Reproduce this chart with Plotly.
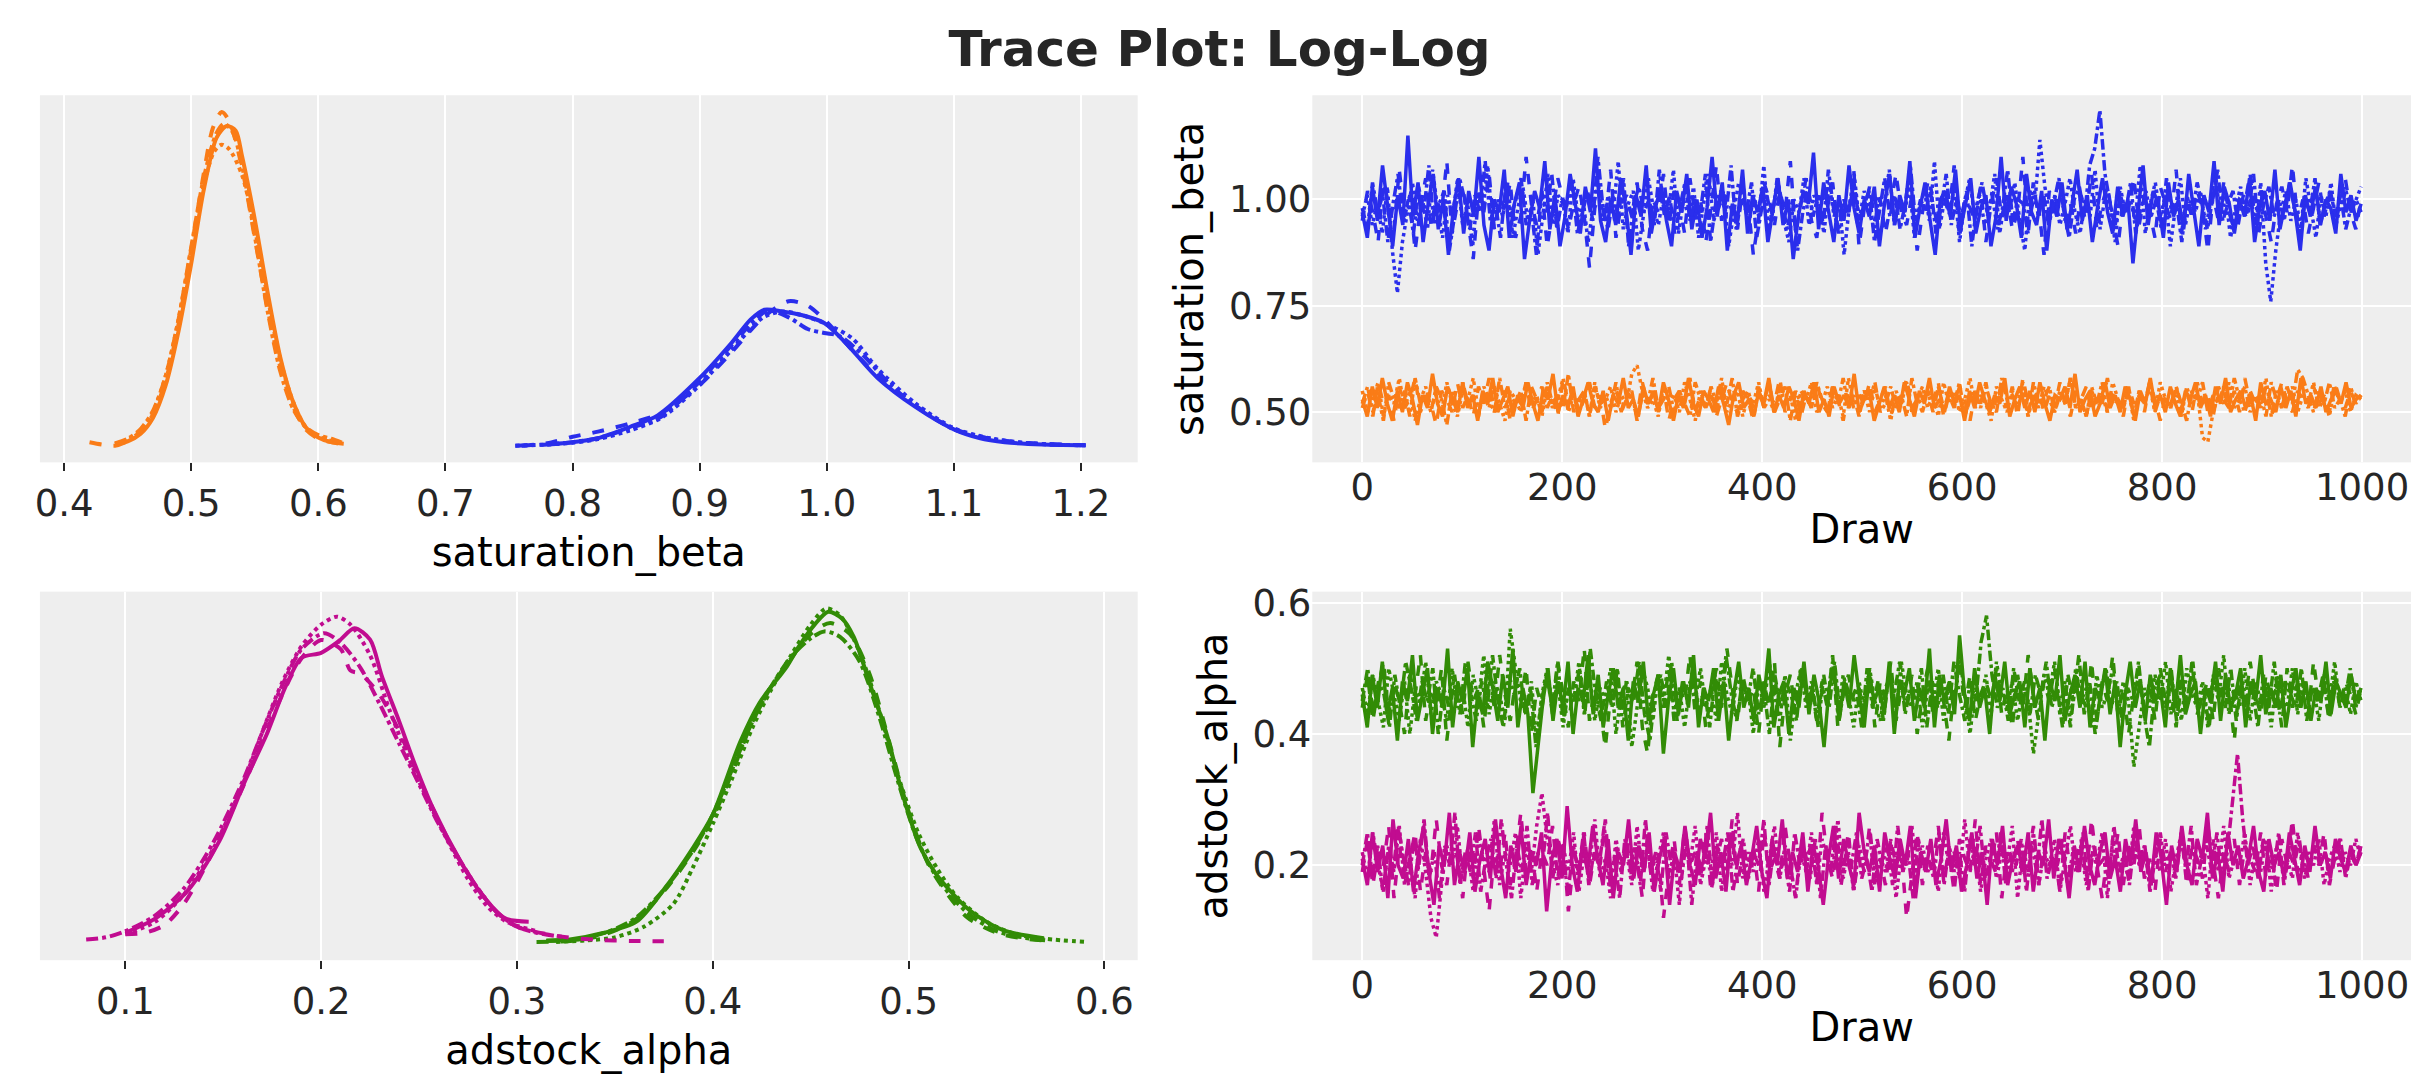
import numpy as np
import plotly.graph_objects as go
from plotly.subplots import make_subplots

# arviz-darkgrid colours, one per coordinate
BLUE = "#2a2eec"
ORANGE = "#fa7c17"
GREEN = "#328c06"
MAGENTA = "#c10c90"
# one line style per chain (4 chains)
CHAIN_DASH = ["solid", "dash", "dot", "dashdot"]

# ---- posterior densities, one list per chain: saturation_beta ----
orange_kde_x = [
    [0.44, 0.45, 0.46, 0.47, 0.48, 0.49, 0.50, 0.51, 0.52, 0.528, 0.535, 0.54, 0.55, 0.56, 0.57, 0.58, 0.59, 0.60, 0.61, 0.62],
    [0.42, 0.43, 0.44, 0.45, 0.46, 0.47, 0.48, 0.49, 0.50, 0.51, 0.517, 0.524, 0.53, 0.54, 0.55, 0.56, 0.57, 0.58, 0.59, 0.60, 0.61, 0.62],
    [0.44, 0.45, 0.46, 0.47, 0.48, 0.49, 0.50, 0.51, 0.518, 0.524, 0.53, 0.54, 0.55, 0.56, 0.57, 0.58, 0.59, 0.60, 0.61, 0.62],
    [0.44, 0.45, 0.46, 0.47, 0.48, 0.49, 0.50, 0.51, 0.52, 0.526, 0.533, 0.54, 0.55, 0.56, 0.57, 0.58, 0.59, 0.60, 0.61, 0.62],
]
orange_kde_y = [
    [0.05, 0.18, 0.5, 1.2, 2.6, 4.9, 7.8, 11.0, 13.2, 13.7, 13.5, 12.4, 9.7, 6.6, 3.8, 1.9, 0.8, 0.35, 0.15, 0.08],
    [0.15, 0.05, 0.0, 0.2, 0.6, 1.35, 2.8, 5.2, 8.4, 11.7, 13.6, 14.3, 13.9, 11.9, 8.9, 5.9, 3.4, 1.7, 0.7, 0.3, 0.15, 0.05],
    [0.08, 0.25, 0.65, 1.45, 3.0, 5.4, 8.4, 11.2, 12.6, 12.9, 12.7, 11.6, 9.3, 6.4, 3.7, 1.9, 0.8, 0.4, 0.2, 0.1],
    [0.1, 0.3, 0.7, 1.5, 3.0, 5.4, 8.5, 11.5, 13.4, 13.8, 13.4, 12.0, 9.0, 5.8, 3.2, 1.6, 0.8, 0.45, 0.3, 0.1],
]
blue_kde_x = [
    [0.78, 0.80, 0.82, 0.845, 0.867, 0.90, 0.925, 0.94, 0.951, 0.965, 0.98, 0.998, 1.015, 1.04, 1.07, 1.10, 1.12, 1.14, 1.17, 1.20],
    [0.76, 0.78, 0.80, 0.82, 0.845, 0.87, 0.90, 0.925, 0.95, 0.97, 0.985, 1.00, 1.02, 1.04, 1.07, 1.10, 1.13, 1.16, 1.19, 1.205],
    [0.755, 0.78, 0.80, 0.82, 0.845, 0.87, 0.90, 0.925, 0.95, 0.965, 0.98, 1.00, 1.02, 1.04, 1.07, 1.10, 1.13, 1.16, 1.19, 1.205],
    [0.755, 0.78, 0.80, 0.82, 0.845, 0.87, 0.90, 0.925, 0.953, 0.97, 0.985, 0.998, 1.01, 1.03, 1.05, 1.07, 1.10, 1.13, 1.16, 1.19, 1.205],
]
blue_kde_y = [
    [0.05, 0.15, 0.32, 0.8, 1.3, 2.9, 4.4, 5.4, 5.83, 5.75, 5.6, 5.26, 4.4, 2.9, 1.65, 0.7, 0.33, 0.15, 0.05, 0.02],
    [0.0, 0.1, 0.38, 0.6, 0.95, 1.4, 2.6, 4.0, 5.5, 6.19, 6.0, 5.3, 4.1, 3.0, 1.7, 0.72, 0.28, 0.1, 0.03, 0.02],
    [0.0, 0.05, 0.12, 0.28, 0.65, 1.2, 2.6, 4.1, 5.5, 5.75, 5.6, 5.2, 4.6, 3.3, 1.8, 0.75, 0.3, 0.1, 0.03, 0.02],
    [0.0, 0.05, 0.15, 0.32, 0.75, 1.25, 2.75, 4.3, 5.77, 5.5, 5.0, 4.83, 4.7, 3.8, 2.6, 1.7, 0.7, 0.28, 0.1, 0.03, 0.02],
]

# ---- posterior densities: adstock_alpha ----
green_kde_x = [
    [0.315, 0.327, 0.344, 0.361, 0.376, 0.39, 0.40, 0.414, 0.424, 0.438, 0.444, 0.452, 0.459, 0.466, 0.472, 0.48, 0.489, 0.497, 0.506, 0.514, 0.531, 0.548, 0.569],
    [0.31, 0.33, 0.345, 0.36, 0.375, 0.39, 0.40, 0.41, 0.42, 0.43, 0.44, 0.45, 0.46, 0.47, 0.48, 0.49, 0.50, 0.51, 0.52, 0.53, 0.545, 0.56, 0.57],
    [0.32, 0.335, 0.35, 0.365, 0.38, 0.39, 0.40, 0.41, 0.42, 0.43, 0.44, 0.45, 0.458, 0.465, 0.475, 0.485, 0.495, 0.505, 0.515, 0.525, 0.54, 0.555, 0.57, 0.59],
    [0.315, 0.33, 0.345, 0.36, 0.375, 0.39, 0.40, 0.41, 0.42, 0.43, 0.44, 0.45, 0.457, 0.465, 0.475, 0.485, 0.495, 0.505, 0.515, 0.53, 0.545, 0.56, 0.57],
]
green_kde_y = [
    [0.1, 0.13, 0.34, 0.71, 1.84, 3.13, 4.2, 6.57, 7.86, 9.05, 9.69, 10.4, 10.82, 10.6, 10.0, 8.51, 6.79, 4.85, 3.13, 2.27, 1.09, 0.44, 0.17],
    [0.05, 0.1, 0.3, 0.75, 1.7, 3.0, 4.1, 5.6, 7.2, 8.4, 9.3, 10.1, 10.45, 10.1, 8.8, 6.6, 4.3, 2.6, 1.6, 0.85, 0.35, 0.15, 0.1],
    [0.05, 0.1, 0.2, 0.55, 1.3, 2.5, 3.9, 5.4, 7.0, 8.3, 9.4, 10.4, 10.93, 10.7, 9.5, 7.6, 5.4, 3.6, 2.4, 1.5, 0.7, 0.3, 0.15, 0.05],
    [0.08, 0.12, 0.35, 0.8, 1.75, 3.05, 4.2, 5.7, 7.2, 8.4, 9.35, 9.95, 10.18, 10.0, 9.2, 7.4, 5.2, 3.3, 2.1, 1.0, 0.4, 0.18, 0.1],
]
magenta_kde_x = [
    [0.10, 0.115, 0.132, 0.148, 0.161, 0.172, 0.182, 0.19, 0.20, 0.209, 0.217, 0.225, 0.231, 0.24, 0.248, 0.257, 0.271, 0.283, 0.294, 0.306],
    [0.10, 0.11, 0.12, 0.13, 0.14, 0.15, 0.16, 0.17, 0.18, 0.19, 0.20, 0.21, 0.215, 0.22, 0.23, 0.24, 0.25, 0.26, 0.27, 0.28, 0.29, 0.30, 0.32, 0.34, 0.36, 0.375],
    [0.10, 0.115, 0.13, 0.145, 0.16, 0.17, 0.18, 0.19, 0.20, 0.208, 0.215, 0.225, 0.235, 0.245, 0.255, 0.265, 0.275, 0.285, 0.295, 0.31],
    [0.08, 0.09, 0.10, 0.115, 0.13, 0.145, 0.16, 0.17, 0.18, 0.19, 0.2015, 0.21, 0.22, 0.23, 0.24, 0.25, 0.26, 0.27, 0.28, 0.29, 0.30, 0.31, 0.325],
]
magenta_kde_y = [
    [0.35, 0.8, 1.73, 3.34, 5.28, 6.79, 8.4, 9.32, 9.48, 9.86, 10.28, 9.91, 8.72, 7.22, 5.82, 4.42, 2.70, 1.52, 0.82, 0.71],
    [0.3, 0.35, 0.6, 1.3, 2.4, 3.7, 5.1, 6.6, 8.1, 9.3, 9.9, 9.6, 8.9, 8.8, 8.1, 6.9, 5.4, 4.0, 2.8, 1.8, 1.0, 0.55, 0.25, 0.12, 0.08, 0.07],
    [0.3, 0.7, 1.6, 3.1, 5.2, 6.9, 8.5, 9.7, 10.4, 10.66, 10.4, 9.4, 7.6, 6.0, 4.6, 3.3, 2.1, 1.2, 0.7, 0.4],
    [0.13, 0.2, 0.4, 0.9, 1.8, 3.3, 5.3, 6.9, 8.4, 9.6, 10.12, 9.8, 9.0, 7.8, 6.5, 5.2, 3.9, 2.8, 1.8, 1.0, 0.55, 0.35, 0.2],
]

# ---- sampled traces (about every 5th draw, values in hundredths), one list per chain ----
blue_trace = [
    [97, 91, 103, 95, 108, 99, 89, 101, 94, 115, 96, 104, 90, 99, 106, 93, 100, 87, 98, 105, 92, 102, 96, 110, 94, 88, 100, 97, 107, 91, 99, 104, 86, 95, 102, 98, 109, 93, 101, 89, 96, 106, 99, 92, 103, 97, 112, 95, 90, 100, 94, 105, 98, 87, 101, 96, 108, 92, 99, 103, 95, 89, 102, 97, 106, 93, 100, 91, 98, 110, 96, 104, 88, 99, 95, 107, 92, 101, 97, 103, 90, 98, 105, 94, 100, 86, 96, 102, 99, 111, 93, 104, 97, 90, 101, 95, 108, 98, 92, 100, 96, 103, 89, 99, 106, 94, 101, 97, 109, 91, 98, 104, 95, 87, 100, 102, 96, 107, 93, 99, 105, 92, 98, 101, 89, 96, 110, 95, 103, 99, 91, 106, 97, 94, 102, 88, 100, 96, 104, 93, 99, 107, 95, 101, 90, 98, 105, 97, 92, 103, 96, 100, 85, 97, 108, 94, 102, 99, 91, 104, 96, 100, 93, 106, 98, 89, 101, 97, 109, 94, 103, 99, 92, 100, 96, 105, 90, 98, 102, 95, 107, 93, 99, 104, 97, 88, 101, 96, 103, 94, 100, 98, 92, 106, 97, 101, 95, 99],
    [95, 102, 97, 90, 104, 99, 93, 107, 96, 101, 88, 98, 105, 94, 100, 97, 109, 92, 99, 103, 95, 86, 101, 97, 106, 93, 100, 98, 104, 91, 96, 110, 99, 94, 102, 89, 97, 105, 100, 93, 99, 103, 96, 84, 98, 102, 95, 107, 91, 99, 101, 96, 104, 93, 88, 100, 97, 106, 94, 102, 99, 92, 105, 96, 100, 90, 98, 108, 95, 101, 97, 93, 103, 99, 87, 96, 104, 100, 94, 102, 97, 109, 92, 99, 105, 95, 91, 101, 98, 104, 93, 100, 96, 107, 89, 98, 103, 95, 100, 92, 99, 106, 97, 94, 101, 88, 97, 104, 99, 93, 102, 96, 108, 91, 100, 98, 95, 103, 90, 99, 105, 96, 101, 93, 97, 110, 94, 100, 98, 87, 102, 96, 104, 95, 99, 92, 101, 97, 106, 93, 99, 103, 96, 89, 100, 98, 105, 94, 101, 97, 91, 103, 99, 95, 107, 92, 100, 96, 102, 98, 88, 101, 95, 104, 97, 93, 100, 99, 106, 94, 102, 96, 90, 99, 103, 97, 108, 95, 100, 92, 98, 104, 96, 101, 94, 99, 105, 97, 93, 100],
    [96, 101, 94, 99, 92, 103, 88, 78, 90, 97, 104, 95, 100, 93, 107, 98, 91, 101, 96, 105, 94, 99, 89, 102, 97, 108, 93, 100, 96, 104, 91, 98, 103, 95, 100, 87, 97, 106, 94, 101, 99, 92, 105, 96, 100, 90, 98, 104, 95, 101, 97, 109, 93, 99, 102, 88, 96, 105, 98, 94, 101, 97, 107, 92, 100, 96, 103, 91, 99, 106, 95, 98, 102, 89, 97, 104, 100, 94, 101, 96, 108, 93, 99, 103, 95, 90, 100, 97, 105, 94, 101, 98, 92, 104, 96, 100, 87, 98, 106, 95, 102, 97, 93, 101, 99, 107, 94, 100, 96, 104, 91, 98, 102, 95, 109, 93, 100, 97, 103, 90, 99, 105, 96, 101, 94, 98, 106, 92, 100, 97, 104, 95, 88, 102, 99, 114, 103, 96, 101, 94, 99, 105, 97, 92, 100, 96, 107, 93, 101, 98, 90, 103, 97, 100, 95, 108, 92, 99, 104, 96, 101, 89, 98, 105, 94, 100, 97, 102, 93, 99, 106, 95, 101, 91, 98, 103, 96, 100, 94, 104, 85, 76, 88, 97, 102, 95, 100, 93, 105, 98, 91, 101, 96, 104, 94, 99, 102, 97, 100, 103],
    [98, 93, 104, 97, 101, 90, 99, 106, 95, 100, 92, 103, 97, 108, 94, 99, 102, 88, 96, 105, 100, 93, 101, 97, 109, 95, 99, 91, 103, 96, 100, 105, 94, 98, 87, 101, 97, 106, 93, 100, 99, 104, 92, 97, 102, 95, 110, 98, 93, 101, 96, 105, 89, 99, 103, 97, 100, 94, 107, 96, 101, 92, 98, 104, 95, 100, 97, 106, 90, 99, 102, 96, 108, 93, 100, 97, 104, 91, 98, 101, 95, 105, 99, 93, 100, 88, 97, 103, 96, 101, 94, 107, 98, 92, 100, 97, 104, 95, 99, 102, 90, 98, 105, 96, 101, 93, 99, 108, 95, 100, 97, 103, 92, 98, 106, 94, 100, 96, 102, 89, 99, 104, 97, 101, 93, 98, 107, 95, 100, 99, 92, 104, 96, 101, 94, 99, 105, 97, 91, 100, 103, 96, 108, 112, 121, 106, 99, 94, 101, 97, 104, 92, 98, 102, 96, 100, 93, 105, 97, 99, 90, 101, 96, 104, 98, 93, 100, 107, 95, 99, 102, 94, 101, 97, 106, 92, 99, 103, 96, 100, 95, 104, 98, 91, 100, 97, 105, 94, 99, 102, 96, 101, 93, 98, 100, 97],
]
orange_trace = [
    [53, 49, 56, 51, 58, 52, 48, 55, 50, 57, 53, 47, 54, 51, 59, 52, 49, 56, 53, 50, 57, 51, 54, 48, 55, 52, 58, 50, 53, 56, 49, 54, 51, 57, 52, 48, 55, 53, 59, 50, 54, 51, 56, 49, 53, 57, 52, 50, 55, 48, 54, 52, 58, 51, 53, 49, 56, 52, 55, 50, 57, 53, 48, 54, 51, 58, 52, 49, 55, 53, 50, 56, 52, 47, 54, 57, 51, 53, 49, 55, 52, 58, 50, 54, 51, 56, 53, 48, 55, 52, 57, 50, 53, 49, 56, 52, 54, 51, 59, 50, 53, 55, 48, 52, 56, 51, 54, 50, 57, 53, 49, 55, 52, 58, 51, 53, 50, 56, 52, 54, 48, 55, 51, 57, 53, 50, 54, 52, 58, 49, 53, 56, 51, 55, 50, 57, 52, 48, 54, 53, 56, 51, 59, 50, 53, 55, 49, 52, 57, 51, 54, 50, 56, 53, 48, 55, 52, 58, 51, 54, 50, 56, 52, 49, 55, 53, 57, 51, 54, 49, 56, 52, 58, 50, 53, 55, 51, 54, 48, 57, 52, 53, 50, 56, 51, 55, 49, 58, 52, 54, 51, 56, 50, 53, 55, 52, 57, 51, 53, 54],
    [51, 55, 49, 57, 52, 54, 48, 56, 51, 53, 58, 50, 54, 52, 47, 55, 53, 50, 57, 51, 54, 49, 56, 52, 58, 50, 53, 55, 48, 54, 52, 57, 50, 53, 56, 51, 54, 49, 58, 52, 55, 50, 53, 57, 51, 54, 46, 52, 56, 50, 55, 53, 49, 57, 52, 54, 51, 56, 48, 53, 55, 52, 58, 50, 54, 51, 56, 49, 53, 57, 52, 50, 55, 53, 48, 56, 51, 54, 52, 58, 50, 53, 55, 49, 54, 51, 57, 52, 50, 56, 53, 48, 55, 51, 54, 52, 57, 50, 53, 56, 49, 54, 52, 58, 51, 53, 50, 55, 52, 57, 49, 54, 51, 56, 53, 48, 55, 52, 57, 50, 53, 54, 51, 56, 49, 58, 52, 53, 55, 50, 54, 51, 57, 52, 49, 55, 53, 56, 50, 54, 52, 58, 51, 53, 49, 56, 52, 55, 50, 57, 53, 48, 54, 52, 56, 51, 55, 50, 57, 52, 54, 49, 56, 53, 51, 55, 50, 58, 52, 54, 51, 56, 49, 53, 57, 52, 50, 55, 53, 51, 56, 52, 54, 50, 57, 53, 51, 55, 52, 54],
    [55, 50, 53, 57, 49, 54, 52, 58, 51, 55, 48, 53, 56, 51, 54, 50, 57, 52, 49, 55, 53, 58, 50, 54, 51, 56, 52, 48, 55, 53, 50, 57, 52, 54, 49, 56, 51, 53, 58, 50, 54, 52, 55, 49, 57, 51, 53, 56, 50, 54, 52, 59, 61, 55, 51, 53, 49, 56, 52, 54, 50, 57, 53, 48, 55, 51, 56, 52, 58, 50, 53, 55, 49, 54, 52, 57, 51, 53, 50, 56, 52, 54, 48, 55, 53, 57, 50, 52, 56, 51, 54, 49, 58, 52, 53, 55, 50, 56, 51, 54, 48, 55, 52, 57, 50, 53, 56, 51, 54, 49, 57, 52, 55, 50, 53, 58, 51, 54, 52, 48, 56, 53, 50, 55, 52, 57, 49, 54, 51, 56, 53, 50, 55, 52, 58, 51, 53, 49, 56, 52, 54, 50, 57, 53, 51, 55, 48, 54, 52, 56, 50, 57, 53, 51, 54, 49, 56, 52, 55, 44, 43, 50, 54, 52, 57, 51, 53, 56, 50, 54, 52, 58, 49, 55, 51, 53, 56, 50, 54, 52, 57, 51, 53, 49, 56, 52, 55, 50, 54, 53],
    [52, 56, 50, 54, 48, 57, 53, 51, 55, 49, 58, 52, 54, 50, 56, 53, 47, 55, 51, 57, 52, 54, 49, 56, 53, 50, 58, 51, 54, 52, 55, 48, 56, 53, 50, 57, 52, 54, 51, 59, 50, 53, 55, 49, 56, 52, 54, 51, 57, 50, 53, 55, 48, 54, 52, 58, 51, 53, 56, 50, 55, 52, 49, 57, 53, 51, 54, 50, 56, 52, 58, 49, 53, 55, 51, 54, 52, 57, 50, 53, 56, 48, 55, 52, 54, 51, 57, 53, 50, 56, 52, 58, 51, 54, 49, 55, 53, 57, 50, 52, 56, 51, 54, 49, 58, 52, 53, 55, 50, 56, 51, 54, 52, 57, 49, 53, 55, 51, 56, 52, 50, 58, 53, 54, 51, 55, 49, 57, 52, 53, 56, 50, 54, 52, 58, 51, 53, 49, 55, 52, 57, 50, 54, 53, 51, 56, 49, 55, 52, 57, 50, 54, 53, 51, 56, 52, 48, 55, 53, 57, 50, 54, 52, 56, 51, 58, 53, 50, 55, 52, 54, 49, 57, 53, 51, 56, 52, 60, 58, 54, 50, 55, 52, 57, 51, 53, 49, 56, 52, 54],
]
green_trace = [
    [46, 41, 49, 44, 51, 43, 47, 39, 48, 45, 52, 42, 46, 50, 40, 47, 44, 53, 41, 48, 45, 50, 38, 46, 43, 51, 47, 42, 49, 44, 53, 41, 47, 43, 31, 38, 45, 50, 42, 48, 44, 51, 40, 47, 45, 52, 43, 49, 41, 46, 50, 44, 47, 39, 48, 45, 51, 42, 46, 49, 37, 45, 50, 43, 48, 44, 52, 41, 47, 45, 50, 42, 48, 39, 46, 51, 44, 47, 42, 49, 45, 53, 41, 46, 48, 40, 47, 44, 51, 43, 49, 45, 38, 47, 50, 42, 48, 44, 52, 46, 41, 49, 45, 47, 43, 51, 40, 48, 46, 50, 42, 47, 44, 53, 41, 49, 45, 48, 43, 55, 46, 42, 50, 44, 47, 40, 49, 45, 51, 43, 46, 48, 41, 50, 44, 47, 39, 48, 45, 52, 42, 46, 49, 44, 51, 41, 47, 45, 50, 43, 48, 38, 46, 51, 44, 48, 42, 49, 45, 47, 41, 50, 44, 52, 43, 46, 48, 40, 47, 45, 51, 42, 49, 44, 46, 50, 41, 48, 45, 52, 43, 47, 44, 49, 41, 46, 50, 44, 48, 42, 47, 45, 51, 43, 48, 46, 44, 49, 45, 47],
    [44, 49, 42, 47, 51, 43, 48, 45, 40, 49, 46, 52, 42, 47, 44, 50, 39, 46, 48, 43, 51, 45, 47, 41, 49, 44, 52, 46, 42, 48, 45, 50, 40, 47, 44, 49, 43, 51, 46, 41, 48, 45, 53, 42, 47, 44, 38, 46, 50, 43, 48, 45, 51, 41, 37, 46, 49, 44, 50, 42, 47, 45, 52, 43, 48, 41, 46, 50, 44, 53, 47, 42, 49, 45, 47, 40, 48, 44, 51, 38, 46, 49, 43, 50, 45, 47, 42, 48, 44, 52, 41, 46, 49, 45, 47, 43, 50, 41, 48, 45, 51, 42, 47, 44, 49, 40, 46, 50, 43, 48, 45, 39, 47, 51, 44, 49, 42, 46, 48, 45, 50, 43, 47, 41, 49, 44, 52, 46, 42, 48, 45, 50, 43, 47, 41, 49, 46, 44, 51, 42, 48, 45, 52, 43, 47, 40, 46, 49, 44, 48, 42, 50, 45, 47, 41, 49, 44, 51, 43, 46, 48, 42, 50, 45, 47, 39, 48, 44, 51, 46, 43, 49, 45, 47, 41, 50, 44, 48, 46, 43, 51, 45, 47, 42, 49, 44, 48, 46, 43, 47],
    [47, 43, 49, 45, 41, 50, 46, 42, 48, 40, 47, 45, 51, 43, 48, 46, 42, 50, 44, 47, 41, 49, 45, 52, 43, 48, 46, 42, 56, 50, 45, 43, 48, 39, 46, 50, 44, 48, 41, 47, 45, 51, 43, 49, 42, 47, 45, 50, 40, 46, 48, 38, 44, 50, 47, 42, 49, 45, 52, 43, 47, 41, 48, 45, 50, 44, 47, 42, 51, 46, 43, 49, 45, 47, 40, 48, 44, 51, 46, 42, 49, 39, 46, 50, 44, 48, 42, 47, 45, 51, 43, 49, 46, 41, 48, 44, 50, 45, 42, 47, 49, 43, 51, 46, 44, 48, 41, 47, 45, 50, 42, 48, 44, 52, 46, 40, 47, 45, 49, 43, 51, 46, 44, 48, 42, 47, 45, 37, 43, 49, 46, 51, 44, 48, 42, 50, 45, 47, 41, 49, 44, 46, 50, 43, 48, 45, 35, 41, 47, 44, 49, 45, 51, 43, 47, 42, 50, 46, 44, 48, 41, 49, 45, 52, 43, 47, 44, 50, 42, 48, 45, 47, 41, 49, 46, 44, 50, 43, 48, 45, 47, 42, 49, 45, 51, 44, 47, 43, 48, 45],
    [45, 50, 43, 48, 46, 41, 49, 44, 51, 47, 42, 48, 45, 50, 40, 47, 44, 49, 43, 51, 46, 42, 48, 44, 52, 45, 41, 49, 46, 50, 43, 47, 38, 45, 49, 44, 51, 42, 47, 45, 50, 43, 53, 46, 42, 48, 44, 50, 41, 47, 45, 51, 43, 39, 47, 49, 44, 51, 42, 48, 45, 50, 43, 47, 41, 49, 44, 52, 46, 42, 48, 45, 50, 43, 47, 40, 49, 44, 48, 46, 42, 50, 45, 47, 41, 49, 44, 51, 43, 48, 45, 47, 41, 50, 44, 48, 42, 49, 46, 51, 43, 47, 45, 50, 41, 48, 44, 49, 43, 51, 46, 42, 48, 45, 54, 58, 49, 44, 47, 42, 50, 45, 48, 43, 49, 46, 51, 44, 47, 41, 49, 45, 52, 43, 48, 40, 46, 50, 44, 48, 42, 47, 45, 51, 43, 38, 47, 49, 44, 50, 42, 48, 45, 51, 43, 47, 41, 49, 46, 44, 50, 42, 48, 45, 47, 41, 49, 44, 51, 43, 48, 46, 44, 50, 42, 47, 45, 49, 43, 48, 46, 45, 50, 44, 47],
]
magenta_trace = [
    [21, 17, 25, 19, 23, 15, 27, 20, 18, 24, 16, 22, 26, 19, 14, 23, 20, 28, 17, 22, 19, 25, 16, 21, 24, 18, 27, 20, 15, 23, 19, 26, 17, 22, 20, 25, 13, 21, 24, 18, 29, 20, 16, 23, 19, 26, 21, 17, 24, 15, 22, 20, 27, 18, 23, 19, 25, 16, 21, 24, 14, 22, 19, 26, 20, 17, 24, 21, 28, 18, 22, 16, 25, 20, 23, 17, 21, 26, 19, 15, 24, 20, 27, 18, 22, 19, 25, 16, 23, 20, 14, 21, 26, 18, 24, 20, 17, 28, 22, 19, 23, 16, 25, 21, 18, 24, 20, 26, 15, 22, 19, 24, 17, 21, 27, 19, 23, 16, 20, 25, 18, 22, 14, 24, 20, 26, 17, 21, 23, 19, 25, 16, 22, 20, 27, 18, 24, 21, 15, 23, 19, 26, 20, 17, 22, 25, 18, 21, 16, 24, 20, 27, 19, 22, 17, 25, 21, 14, 23, 19, 26, 20, 17, 24, 21, 28, 18, 22, 16, 25, 20, 23, 18, 21, 26, 19, 16, 24, 20, 22, 18, 25, 21, 17, 23, 19, 26, 20, 22, 18, 24, 21, 19, 23, 20, 22],
    [19, 24, 17, 22, 20, 26, 15, 23, 18, 21, 25, 16, 22, 19, 27, 20, 17, 24, 21, 15, 23, 18, 26, 20, 13, 22, 19, 25, 17, 21, 28, 19, 23, 16, 22, 20, 26, 18, 24, 13, 21, 19, 25, 17, 22, 20, 27, 16, 23, 19, 24, 18, 21, 15, 25, 20, 22, 12, 19, 24, 17, 26, 20, 22, 18, 25, 16, 21, 24, 19, 27, 17, 22, 20, 23, 16, 25, 19, 21, 18, 26, 20, 15, 23, 19, 24, 17, 28, 21, 18, 23, 20, 25, 16, 22, 19, 26, 18, 21, 17, 24, 20, 22, 12, 19, 25, 17, 23, 20, 26, 18, 22, 16, 24, 21, 19, 27, 17, 23, 20, 25, 15, 22, 19, 24, 18, 21, 26, 17, 23, 20, 22, 16, 25, 19, 21, 24, 18, 27, 20, 15, 22, 19, 25, 17, 23, 20, 26, 18, 21, 16, 24, 20, 22, 19, 25, 17, 23, 21, 18, 26, 20, 15, 22, 19, 24, 17, 23, 21, 19, 25, 18, 22, 16, 24, 20, 27, 19, 22, 18, 23, 20, 25, 17, 21, 24, 19, 22, 20, 23],
    [22, 18, 25, 20, 16, 23, 19, 26, 17, 21, 15, 24, 19, 12, 9, 17, 23, 20, 26, 18, 22, 16, 24, 21, 19, 27, 17, 22, 20, 25, 15, 23, 19, 26, 31, 24, 20, 17, 23, 19, 25, 16, 22, 20, 27, 18, 21, 15, 24, 20, 22, 17, 26, 19, 23, 16, 21, 25, 18, 22, 14, 24, 20, 26, 17, 21, 19, 25, 16, 23, 20, 28, 18, 22, 19, 24, 16, 21, 26, 18, 23, 20, 15, 22, 19, 25, 17, 24, 21, 19, 27, 18, 22, 16, 23, 20, 25, 17, 21, 19, 24, 15, 22, 20, 26, 18, 23, 19, 21, 16, 25, 20, 22, 18, 27, 19, 23, 16, 21, 24, 18, 22, 20, 26, 15, 23, 19, 25, 17, 22, 20, 24, 16, 21, 26, 19, 23, 17, 22, 20, 25, 15, 24, 19, 21, 18, 26, 20, 23, 17, 22, 19, 24, 16, 21, 25, 18, 23, 20, 22, 15, 24, 19, 26, 18, 21, 20, 25, 17, 22, 19, 24, 16, 23, 20, 21, 18, 25, 19, 22, 20, 24, 17, 21, 23, 19, 22, 20, 24, 21],
    [20, 25, 18, 23, 16, 22, 19, 26, 21, 17, 24, 20, 27, 18, 22, 15, 23, 20, 28, 17, 22, 19, 25, 16, 21, 24, 18, 27, 20, 15, 23, 19, 26, 17, 22, 20, 28, 18, 24, 21, 16, 23, 19, 25, 17, 22, 20, 26, 18, 21, 15, 24, 20, 23, 17, 27, 19, 22, 16, 25, 20, 21, 18, 24, 14, 22, 19, 26, 17, 23, 20, 25, 16, 21, 24, 18, 22, 20, 27, 17, 23, 19, 21, 16, 25, 20, 22, 18, 24, 15, 23, 19, 26, 17, 22, 20, 25, 18, 21, 16, 24, 20, 23, 17, 26, 19, 22, 15, 24, 20, 21, 18, 25, 17, 23, 19, 22, 16, 24, 20, 26, 18, 21, 19, 25, 17, 22, 20, 24, 16, 23, 19, 27, 18, 21, 20, 24, 17, 22, 19, 25, 16, 23, 20, 21, 18, 26, 19, 22, 17, 24, 20, 23, 16, 21, 25, 19, 22, 18, 24, 20, 26, 17, 21, 23, 19, 25, 18, 22, 30, 37, 27, 20, 23, 18, 24, 21, 19, 25, 17, 22, 20, 24, 18, 21, 23, 20, 22, 19, 21, 24, 18, 22, 20, 23],
]

N_DRAWS = 1000
FONT = "DejaVu Sans"
TEXT = "#262626"

fig = make_subplots(rows=2, cols=2)


def add_kde(row, xs_chains, ys_chains, color):
    for chain, (xs, ys) in enumerate(zip(xs_chains, ys_chains)):
        fig.add_trace(
            go.Scatter(
                x=xs, y=ys, mode="lines", hoverinfo="skip",
                line=dict(color=color, width=4, dash=CHAIN_DASH[chain], shape="spline", smoothing=0.8),
            ),
            row=row, col=1,
        )


def add_samples(row, chains, color):
    for chain, vals in enumerate(chains):
        draws = np.linspace(0, N_DRAWS - 1, len(vals))
        fig.add_trace(
            go.Scatter(
                x=draws, y=np.array(vals) / 100.0, mode="lines", hoverinfo="skip",
                line=dict(color=color, width=3.5, dash=CHAIN_DASH[chain]),
            ),
            row=row, col=2,
        )


add_kde(1, blue_kde_x, blue_kde_y, BLUE)
add_kde(1, orange_kde_x, orange_kde_y, ORANGE)
add_kde(2, green_kde_x, green_kde_y, GREEN)
add_kde(2, magenta_kde_x, magenta_kde_y, MAGENTA)
add_samples(1, blue_trace, BLUE)
add_samples(1, orange_trace, ORANGE)
add_samples(2, green_trace, GREEN)
add_samples(2, magenta_trace, MAGENTA)

top_max = max(max(y) for y in blue_kde_y + orange_kde_y)
bot_max = max(max(y) for y in green_kde_y + magenta_kde_y)

tick_font = dict(family=FONT, size=37, color=TEXT)
label_font = dict(family=FONT, size=40, color="black")
common = dict(showline=False, zeroline=False, gridcolor="white", gridwidth=2, tickfont=tick_font)
kde_x = dict(common, showgrid=True, ticks="outside", ticklen=8, tickwidth=2, tickcolor=TEXT,
             dtick=0.1, tick0=0, tickformat=".1f")
kde_y = dict(common, showgrid=False, showticklabels=False, ticks="")
draw_x = dict(common, showgrid=True, ticks="", range=[-49.95, 1048.95], dtick=200, tick0=0)

LEFT = [27 / 2423, 1127 / 2423]
RIGHT = [1302 / 2423, 2403 / 2423]
TOP = [1 - 448.5 / 1081, 1 - 78 / 1081]
BOTTOM = [1 - 951 / 1081, 1 - 579 / 1081]

fig.update_layout(
    width=2423,
    height=1081,
    margin=dict(l=0, r=0, t=0, b=0),
    paper_bgcolor="white",
    plot_bgcolor="#eeeeee",
    showlegend=False,
    font=dict(family=FONT, color=TEXT),
    title=dict(
        text="<b>Trace Plot: Log-Log</b>", x=0.5, xanchor="center",
        y=1 - 40.5 / 1081, yanchor="middle", font=dict(family=FONT, size=50, color=TEXT),
    ),
    xaxis=dict(kde_x, domain=LEFT, range=[0.381, 1.2446],
               title=dict(text="saturation_beta", font=label_font, standoff=14)),
    yaxis=dict(kde_y, domain=TOP, range=[-0.05 * top_max, 1.05 * top_max]),
    xaxis2=dict(draw_x, domain=RIGHT, title=dict(text="Draw", font=label_font, standoff=6)),
    yaxis2=dict(common, domain=TOP, range=[0.382, 1.245], dtick=0.25, tick0=0, tickformat=".2f",
                ticks="", title=dict(text="saturation_beta", font=label_font, standoff=12)),
    xaxis3=dict(kde_x, domain=LEFT, range=[0.0564, 0.617],
                title=dict(text="adstock_alpha", font=label_font, standoff=14)),
    yaxis3=dict(kde_y, domain=BOTTOM, range=[-0.05 * bot_max, 1.05 * bot_max]),
    xaxis4=dict(draw_x, domain=RIGHT, title=dict(text="Draw", font=label_font, standoff=6)),
    yaxis4=dict(common, domain=BOTTOM, range=[0.0556, 0.6166], dtick=0.2, tick0=0, tickformat=".1f",
                ticks="", title=dict(text="adstock_alpha", font=label_font, standoff=12)),
)

fig.write_html("out.html")
